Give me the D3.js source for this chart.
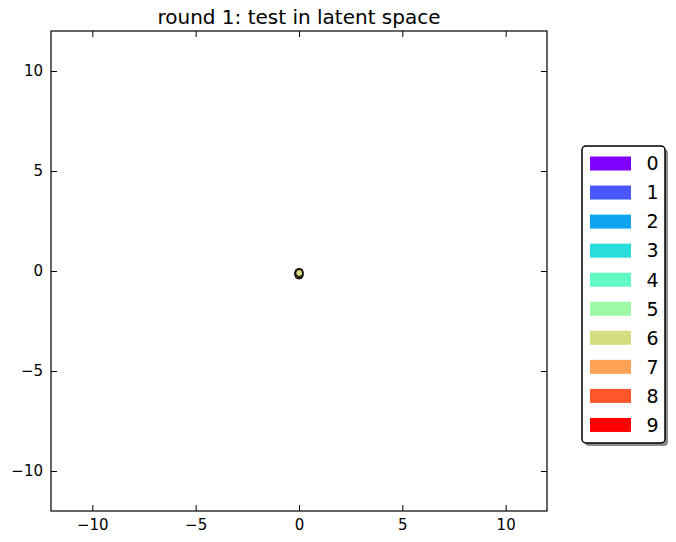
<!DOCTYPE html>
<html>
<head>
<meta charset="utf-8">
<script src="https://cdn.jsdelivr.net/npm/d3@7"></script>
<style>
  body { margin: 0; background: #fff; }
  svg { font-family: 'DejaVu Sans', sans-serif; }
</style>
</head>
<body>
<div id="root"></div>
<script>
// Data
const classes = ['0', '1', '2', '3', '4', '5', '6', '7', '8', '9'];
const classColors = ['#8000ff', '#4757fb', '#0ea4f0', '#2adddd', '#62fbc4',
                     '#9cfba4', '#d4dd80', '#ffa256', '#ff562c', '#ff0000'];
// latent codes, all collapsed near the origin
const pointX = [0.03, -0.04, 0.02, -0.03, 0.04, 0.00, -0.02, 0.03, -0.03, 0.01, 0.00, 0.01];
const pointY = [-0.08, -0.14, -0.22, -0.06, -0.18, -0.12, -0.22, -0.05, -0.11, -0.16, -0.14, -0.10];
const pointLabel = [0, 1, 2, 3, 4, 7, 8, 9, 5, 6, 5, 6];
const xTicks = [-10, -5, 0, 5, 10];
const yTicks = [-10, -5, 0, 5, 10];
const title = 'round 1: test in latent space';

const width = 676;
const height = 542;
const margin = { left: 51, right: 129, top: 31, bottom: 31 };
const tickLen = 6;

const svg = d3.select('#root')
  .append('svg')
  .attr('width', width)
  .attr('height', height);

const x = d3.scaleLinear().domain([-12, 12]).range([margin.left, width - margin.right]);
const y = d3.scaleLinear().domain([-12, 12]).range([height - margin.bottom, margin.top]);

const fmt = d => d < 0 ? '\u2212' + Math.abs(d) : String(d);

// Axes, inward ticks on all four sides
const bottomAxis = svg.append('g')
  .attr('transform', `translate(0,${y(-12)})`)
  .call(d3.axisBottom(x).tickValues(xTicks).tickSizeInner(-tickLen).tickSizeOuter(0).tickPadding(8).tickFormat(fmt));
const topAxis = svg.append('g')
  .attr('transform', `translate(0,${y(12)})`)
  .call(d3.axisTop(x).tickValues(xTicks).tickSizeInner(-tickLen).tickSizeOuter(0).tickFormat(''));
const leftAxis = svg.append('g')
  .attr('transform', `translate(${x(-12)},0)`)
  .call(d3.axisLeft(y).tickValues(yTicks).tickSizeInner(-tickLen).tickSizeOuter(0).tickPadding(8).tickFormat(fmt));
const rightAxis = svg.append('g')
  .attr('transform', `translate(${x(12)},0)`)
  .call(d3.axisRight(y).tickValues(yTicks).tickSizeInner(-tickLen).tickSizeOuter(0).tickFormat(''));

[bottomAxis, topAxis, leftAxis, rightAxis].forEach(g => {
  g.select('.domain').remove();
  g.selectAll('line').attr('stroke', '#000').attr('stroke-width', 1);
  g.selectAll('text').attr('fill', '#000').attr('font-size', '15px')
    .attr('font-family', "'DejaVu Sans', sans-serif");
});

// Points
svg.append('g')
  .selectAll('circle')
  .data(pointX.map((d, i) => ({ x: d, y: pointY[i], label: pointLabel[i] })))
  .enter()
  .append('circle')
  .attr('cx', d => x(d.x))
  .attr('cy', d => y(d.y))
  .attr('r', 3.5)
  .attr('fill', d => classColors[d.label])
  .attr('stroke', '#000')
  .attr('stroke-width', 1);

// Frame
svg.append('rect')
  .attr('x', x(-12))
  .attr('y', y(12))
  .attr('width', x(12) - x(-12))
  .attr('height', y(-12) - y(12))
  .attr('fill', 'none')
  .attr('stroke', '#000')
  .attr('stroke-width', 1.2);

// Title
svg.append('text')
  .attr('x', (x(-12) + x(12)) / 2)
  .attr('y', y(12) - 7)
  .attr('text-anchor', 'middle')
  .attr('font-size', '20px')
  .text(title);

// Legend
const lg = { x: 582, y: 146, w: 83, h: 297 };
const rowH = 29.05;
svg.append('rect')
  .attr('x', lg.x + 3).attr('y', lg.y + 3)
  .attr('width', lg.w).attr('height', lg.h)
  .attr('rx', 4)
  .attr('fill', '#8c8c8c');
svg.append('rect')
  .attr('x', lg.x).attr('y', lg.y)
  .attr('width', lg.w).attr('height', lg.h)
  .attr('rx', 4)
  .attr('fill', '#fff')
  .attr('stroke', '#000')
  .attr('stroke-width', 1.5);

const legend = svg.selectAll('.legend')
  .data(classes)
  .enter()
  .append('g')
  .attr('class', 'legend')
  .attr('transform', (d, i) => `translate(${lg.x + 8},${lg.y + 17.5 + i * rowH})`);

legend.append('rect')
  .attr('x', 0)
  .attr('y', -7)
  .attr('width', 41)
  .attr('height', 14)
  .attr('fill', (d, i) => classColors[i]);

legend.append('text')
  .attr('x', 62.5)
  .attr('dy', '0.36em')
  .attr('text-anchor', 'middle')
  .attr('font-size', '19px')
  .text(d => d);
</script>
</body>
</html>
